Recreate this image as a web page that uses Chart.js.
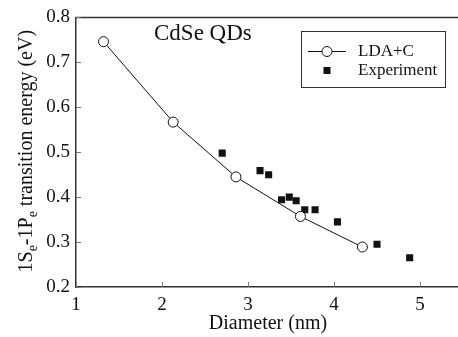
<!DOCTYPE html>
<html>
<head>
<meta charset="utf-8">
<script src="https://cdn.jsdelivr.net/npm/chart.js@4/dist/chart.umd.min.js"></script>
<style>
    html, body { margin: 0; padding: 0; background: #fff; overflow: hidden; }
    #wrap { width: 458px; height: 337px; overflow: hidden; }
    #box { width: 470px; height: 337px; }
</style>
</head>
<body>
<div id="wrap"><div id="box"><canvas id="chart"></canvas></div></div>
<script>
// LDA+C calculation (circles joined by a line)
const ldaDiameter = [1.32, 2.13, 2.86, 3.61, 4.33];
const ldaEnergy = [0.746, 0.567, 0.445, 0.357, 0.289];

// Experimental points (filled squares)
const expDiameter = [2.70, 3.14, 3.24, 3.39, 3.48, 3.56, 3.66, 3.78, 4.04, 4.50, 4.88];
const expEnergy = [0.498, 0.459, 0.450, 0.394, 0.400, 0.392, 0.372, 0.372, 0.345, 0.295, 0.265];

// Axis ticks
const xTickValues = [1, 2, 3, 4, 5];
const yTickValues = [0.2, 0.3, 0.4, 0.5, 0.6, 0.7, 0.8];

const FONT = "'Liberation Serif', serif";
const AXIS_COLOR = '#333';

Chart.defaults.font.family = FONT;
Chart.defaults.color = '#111';

function toPoints(xs, ys) {
    return xs.map((x, i) => ({ x: x, y: ys[i] }));
}

// Frame, inward ticks, axis titles, in-plot title and boxed legend
const decorPlugin = {
    id: 'decor',
    afterDraw(chart) {
        const ctx = chart.ctx;
        const area = chart.chartArea;
        const xs = chart.scales.x;
        const ys = chart.scales.y;
        ctx.save();

        // top border
        ctx.strokeStyle = AXIS_COLOR;
        ctx.lineWidth = 1.5;
        ctx.beginPath();
        ctx.moveTo(area.left, area.top);
        ctx.lineTo(area.right, area.top);
        ctx.stroke();

        // inward ticks
        ctx.strokeStyle = '#777';
        ctx.lineWidth = 1;
        xTickValues.forEach(v => {
            const px = Math.round(xs.getPixelForValue(v)) + 0.5;
            ctx.beginPath();
            ctx.moveTo(px, area.bottom);
            ctx.lineTo(px, area.bottom - 5);
            ctx.stroke();
        });
        yTickValues.forEach(v => {
            const py = Math.round(ys.getPixelForValue(v)) + 0.5;
            ctx.beginPath();
            ctx.moveTo(area.left, py);
            ctx.lineTo(area.left + 5, py);
            ctx.stroke();
        });

        ctx.fillStyle = '#111';

        // x axis title
        ctx.font = '20px ' + FONT;
        ctx.textAlign = 'center';
        ctx.textBaseline = 'middle';
        ctx.fillText('Diameter (nm)', 268, 324);

        // y axis title with subscripts
        const parts = [
            { t: '1S', sub: false }, { t: 'e', sub: true },
            { t: '-1P', sub: false }, { t: 'e', sub: true },
            { t: ' transition energy (eV)', sub: false }
        ];
        const mainFont = '20px ' + FONT;
        const subFont = '14px ' + FONT;
        let total = 0;
        parts.forEach(p => {
            ctx.font = p.sub ? subFont : mainFont;
            p.w = ctx.measureText(p.t).width;
            total += p.w;
        });
        ctx.translate(32, (area.top + area.bottom) / 2 - 1);
        ctx.rotate(-Math.PI / 2);
        ctx.textAlign = 'left';
        ctx.textBaseline = 'alphabetic';
        let cx = -total / 2;
        parts.forEach(p => {
            ctx.font = p.sub ? subFont : mainFont;
            ctx.fillText(p.t, cx, p.sub ? 5 : 0);
            cx += p.w;
        });
        ctx.setTransform(1, 0, 0, 1, 0, 0);

        // in-plot title
        ctx.font = '23px ' + FONT;
        ctx.textAlign = 'left';
        ctx.textBaseline = 'middle';
        ctx.fillText('CdSe QDs', 154, 34);

        // legend box
        ctx.strokeStyle = AXIS_COLOR;
        ctx.lineWidth = 1;
        ctx.strokeRect(301.5, 31.5, 144, 56);
        const lda = chart.data.datasets[0];
        const exp = chart.data.datasets[1];

        ctx.strokeStyle = '#111';
        ctx.beginPath();
        ctx.moveTo(308, 51.5);
        ctx.lineTo(346, 51.5);
        ctx.stroke();
        ctx.fillStyle = '#fff';
        ctx.beginPath();
        ctx.arc(327, 51.5, 5, 0, Math.PI * 2);
        ctx.fill();
        ctx.stroke();

        ctx.fillStyle = '#111';
        ctx.fillRect(323.5, 67, 7, 7);

        ctx.font = '17px ' + FONT;
        ctx.fillText(lda.label, 358, 52);
        ctx.fillText(exp.label, 358, 71);

        ctx.restore();
    }
};

const chart = new Chart(document.getElementById('chart'), {
    type: 'scatter',
    data: {
        datasets: [
            {
                label: 'LDA+C',
                data: toPoints(ldaDiameter, ldaEnergy),
                showLine: true,
                borderColor: '#111',
                borderWidth: 1,
                pointStyle: 'circle',
                pointRadius: 5,
                pointBorderWidth: 1,
                pointBorderColor: '#111',
                pointBackgroundColor: '#fff'
            },
            {
                label: 'Experiment',
                data: toPoints(expDiameter, expEnergy),
                showLine: false,
                pointStyle: 'rect',
                pointRadius: 5,
                pointBorderWidth: 0,
                pointBackgroundColor: '#111',
                pointBorderColor: '#111'
            }
        ]
    },
    options: {
        responsive: true,
        maintainAspectRatio: false,
        animation: false,
        layout: { padding: { top: 16, right: 7, left: 0, bottom: 0 } },
        plugins: {
            legend: { display: false },
            tooltip: { enabled: false }
        },
        scales: {
            x: {
                type: 'linear',
                min: 1,
                max: 5.5,
                afterBuildTicks: scale => { scale.ticks = xTickValues.map(v => ({ value: v })); },
                afterFit: scale => { scale.height = 50; },
                grid: { drawOnChartArea: false, drawTicks: false },
                border: { color: AXIS_COLOR, width: 1.5 },
                ticks: {
                    color: '#111',
                    padding: 7,
                    maxRotation: 0,
                    font: { family: FONT, size: 19 },
                    callback: v => String(v)
                }
            },
            y: {
                type: 'linear',
                min: 0.2,
                max: 0.8,
                afterBuildTicks: scale => { scale.ticks = yTickValues.map(v => ({ value: v })); },
                afterFit: scale => { scale.width = 76; },
                grid: { drawOnChartArea: false, drawTicks: false },
                border: { color: AXIS_COLOR, width: 1.5 },
                ticks: {
                    color: '#111',
                    padding: 6,
                    font: { family: FONT, size: 19 },
                    callback: v => v.toFixed(1)
                }
            }
        }
    },
    plugins: [decorPlugin]
});
</script>
</body>
</html>
